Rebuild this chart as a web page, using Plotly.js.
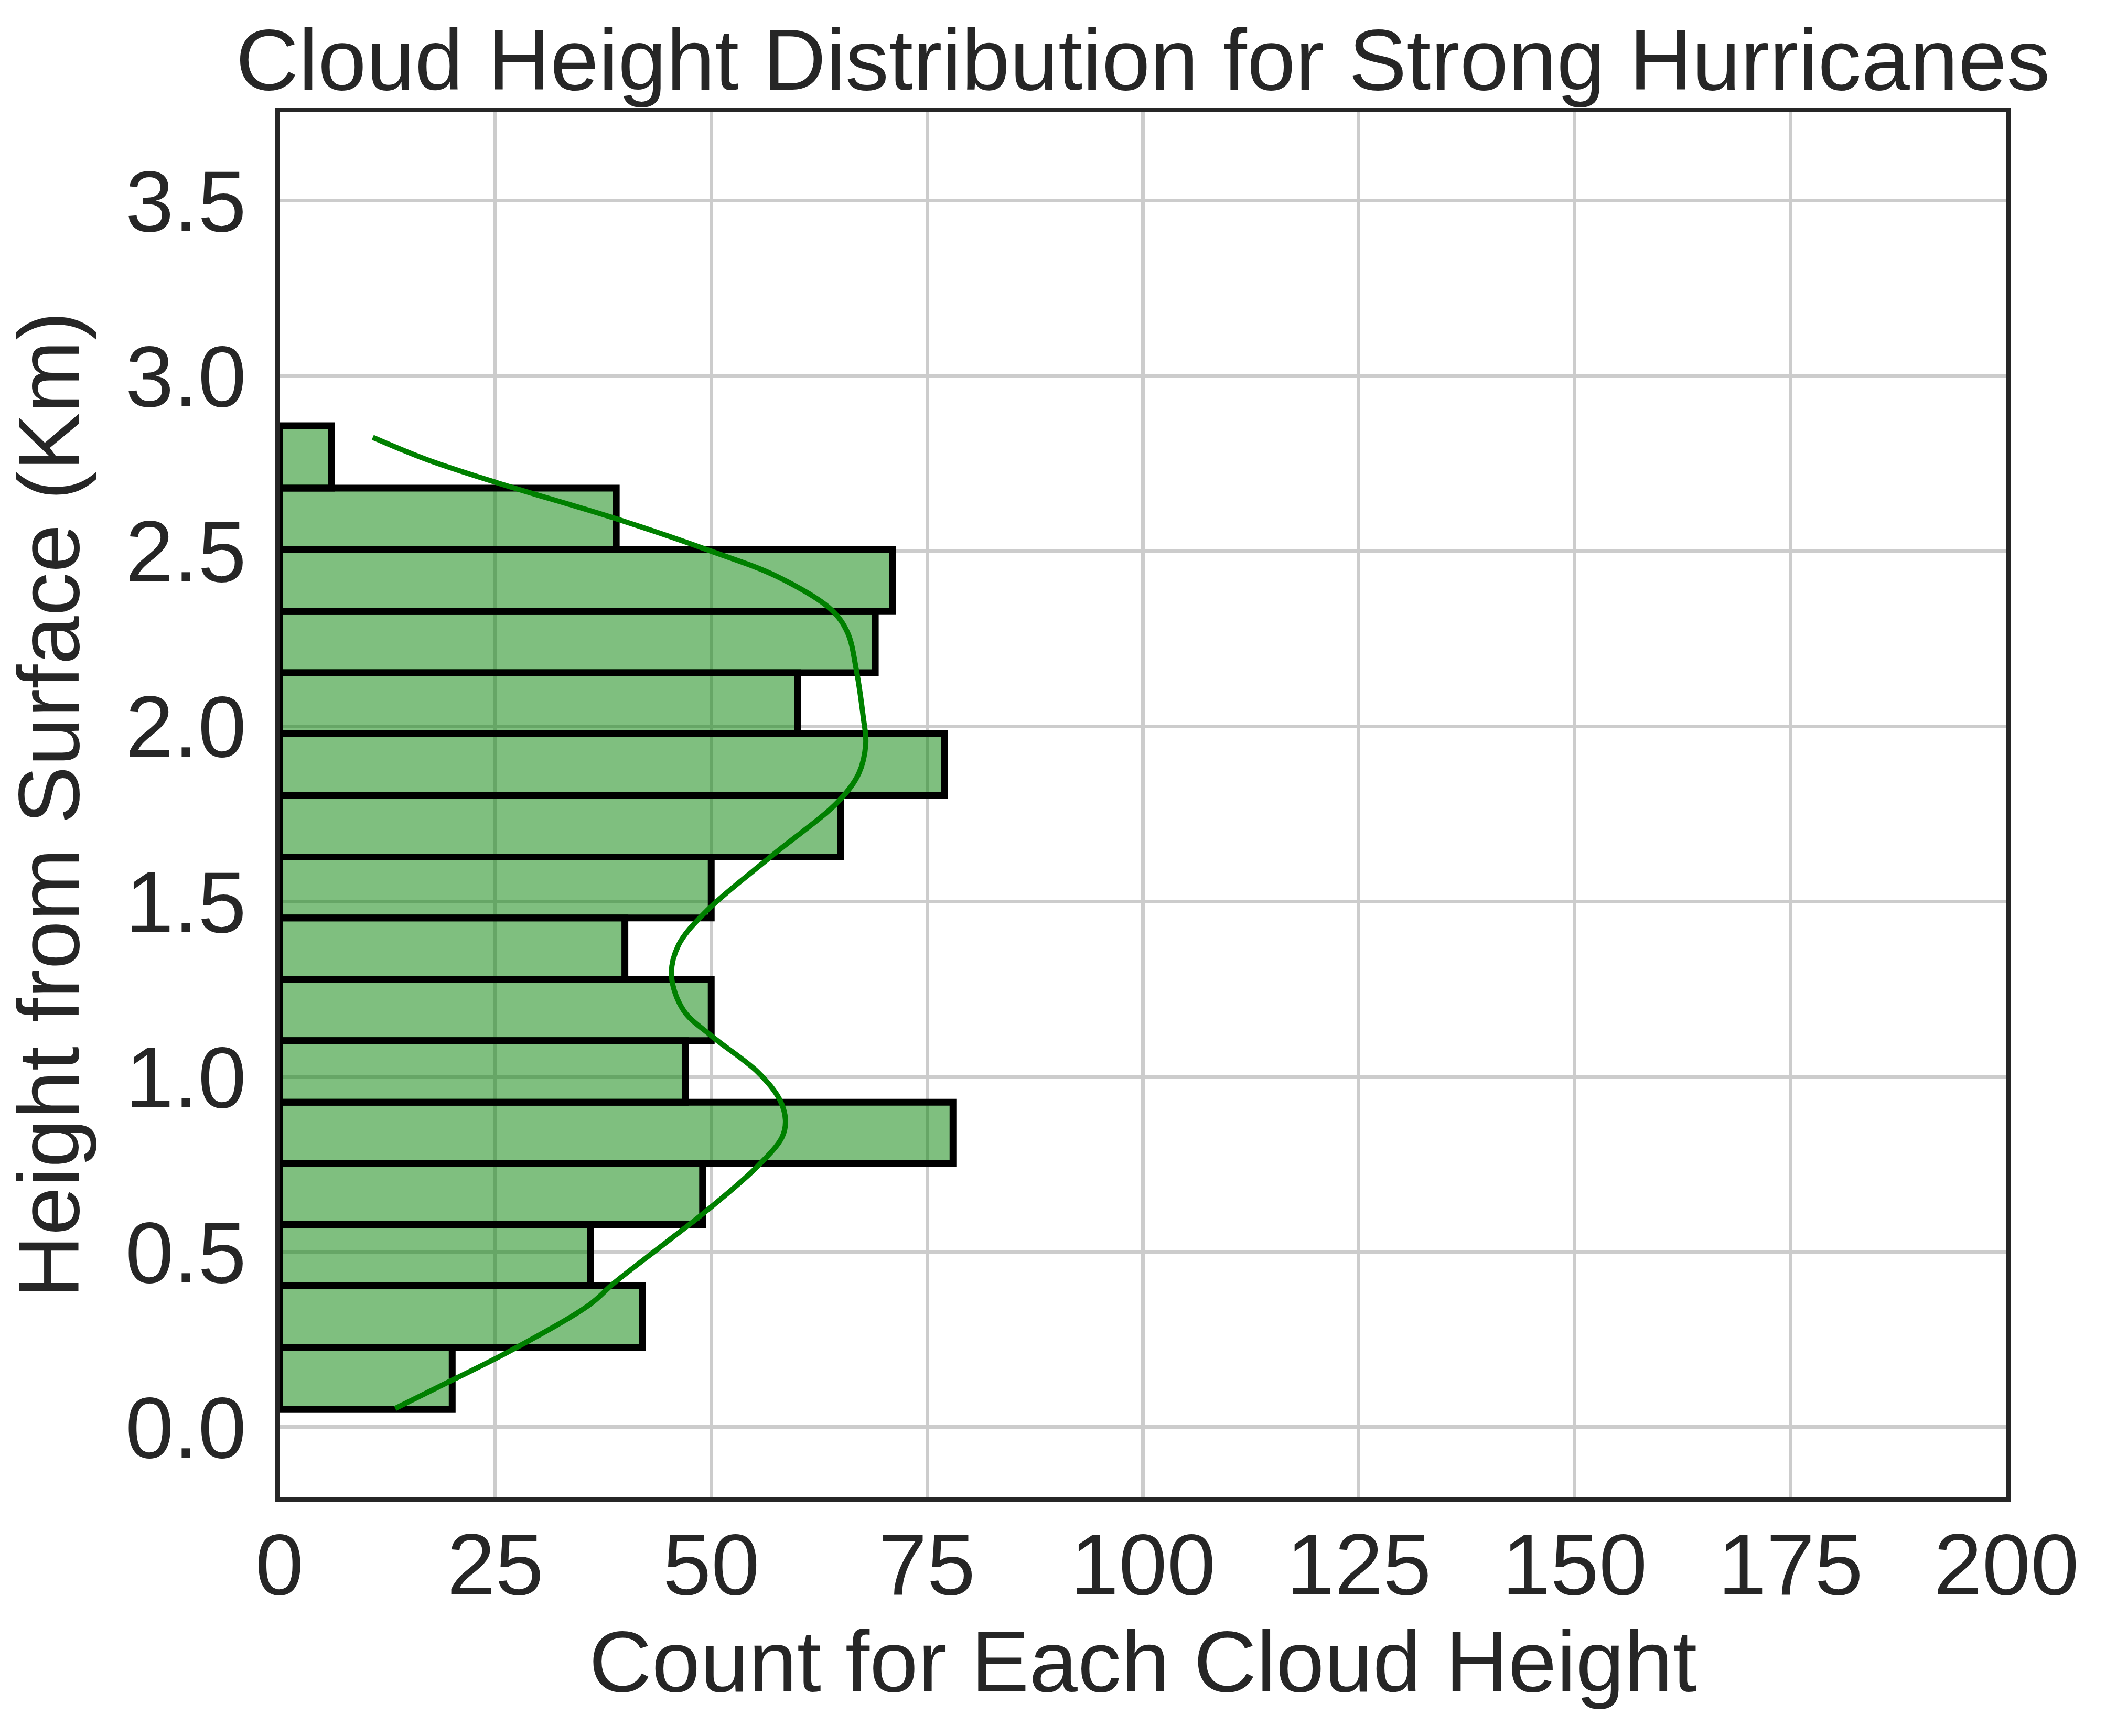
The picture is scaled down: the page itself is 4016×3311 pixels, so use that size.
<!DOCTYPE html>
<html>
<head>
<meta charset="utf-8">
<script src="https://cdn.plot.ly/plotly-3.0.1.min.js"></script>
<style>html,body{margin:0;padding:0;background:#fff;}#chart{width:4016px;height:3311px;}</style>
</head>
<body>
<div id="chart"></div>
<script>
// Histogram bin edges (km)
const binEdges = [0.050, 0.227, 0.403, 0.578, 0.752, 0.927, 1.103, 1.277, 1.453, 1.627, 1.803, 1.979, 2.153, 2.328, 2.504, 2.680, 2.858];
// Counts per bin (bottom to top)
const binCounts = [20, 42, 36, 49, 78, 47, 50, 40, 50, 65, 77, 60, 69, 71, 39, 6];

// KDE curve (scaled to counts)
const kdeHeight = [0.053, 0.130, 0.217, 0.349, 0.410, 0.514, 0.618, 0.745, 0.827, 0.876, 0.936, 1.013, 1.117, 1.189, 1.288, 1.375, 1.474, 1.632, 1.785, 1.866, 1.951, 2.028, 2.162, 2.267, 2.333, 2.428, 2.500, 2.591, 2.696, 2.762, 2.825];
const kdeCount  = [13.4, 19.7, 26.7, 35.9, 38.7, 44.1, 49.5, 55.4, 58.2, 58.6, 57.9, 55.4, 50.0, 46.8, 45.4, 46.2, 49.5, 57.1, 64.7, 67.1, 67.9, 67.6, 66.8, 65.8, 63.9, 57.6, 50.0, 39.2, 25.1, 17.0, 10.8];

const xTicks = [0, 25, 50, 75, 100, 125, 150, 175, 200];
const yTicks = [0, 0.5, 1.0, 1.5, 2.0, 2.5, 3.0, 3.5];
const yTickText = ["0.0", "0.5", "1.0", "1.5", "2.0", "2.5", "3.0", "3.5"];

const titleText = "Cloud Height Distribution for Strong Hurricanes";
const xTitle = "Count for Each Cloud Height";
const yTitle = "Height from Surface (Km)";

const centers = [], widths = [];
for (let i = 0; i < binCounts.length; i++) {
  centers.push((binEdges[i] + binEdges[i + 1]) / 2);
  widths.push(binEdges[i + 1] - binEdges[i]);
}

const FONT = "Liberation Sans, Arial, Helvetica, sans-serif";
const TXT = "#262626";
const FS = 166;

const bars = {
  type: "bar",
  orientation: "h",
  y: centers,
  x: binCounts,
  width: widths,
  marker: { color: "rgba(0,128,0,0.5)", line: { color: "#000000", width: 13 } },
  hoverinfo: "skip",
  showlegend: false
};

const kde = {
  type: "scatter",
  mode: "lines",
  x: kdeCount,
  y: kdeHeight,
  line: { color: "#008000", width: 10, shape: "spline", smoothing: 1 },
  hoverinfo: "skip",
  showlegend: false
};

const layout = {
  width: 4016,
  height: 3311,
  margin: { l: 533, r: 190, t: 214, b: 455, pad: 0 },
  paper_bgcolor: "#ffffff",
  plot_bgcolor: "#ffffff",
  bargap: 0,
  font: { family: FONT, color: TXT, size: FS },
  title: {
    text: titleText,
    font: { family: FONT, size: FS, color: TXT },
    x: 0.5, xref: "paper", xanchor: "center",
    y: 1 - 112.7 / 3311, yref: "container", yanchor: "middle"
  },
  xaxis: {
    range: [0, 200],
    tickvals: xTicks,
    ticktext: xTicks.map(String),
    showgrid: true, gridcolor: "#cccccc", gridwidth: 6.5,
    zeroline: false,
    showline: true, linecolor: TXT, linewidth: 8, mirror: true,
    ticks: "",
    tickfont: { family: FONT, size: FS, color: TXT },
    ticklabelstandoff: -22,
    automargin: false,
    title: { text: xTitle, font: { family: FONT, size: FS, color: TXT }, standoff: 36 }
  },
  yaxis: {
    range: [-0.201, 3.753],
    tickvals: yTicks,
    ticktext: yTickText,
    showgrid: true, gridcolor: "#cccccc", gridwidth: 6.5,
    zeroline: false,
    showline: true, linecolor: TXT, linewidth: 8, mirror: true,
    ticks: "",
    tickfont: { family: FONT, size: FS, color: TXT },
    ticklabelstandoff: 22,
    automargin: false,
    title: { text: yTitle, font: { family: FONT, size: FS, color: TXT }, standoff: 40 }
  }
};

Plotly.newPlot("chart", [bars, kde], layout, { staticPlot: true, displayModeBar: false });
</script>
</body>
</html>
